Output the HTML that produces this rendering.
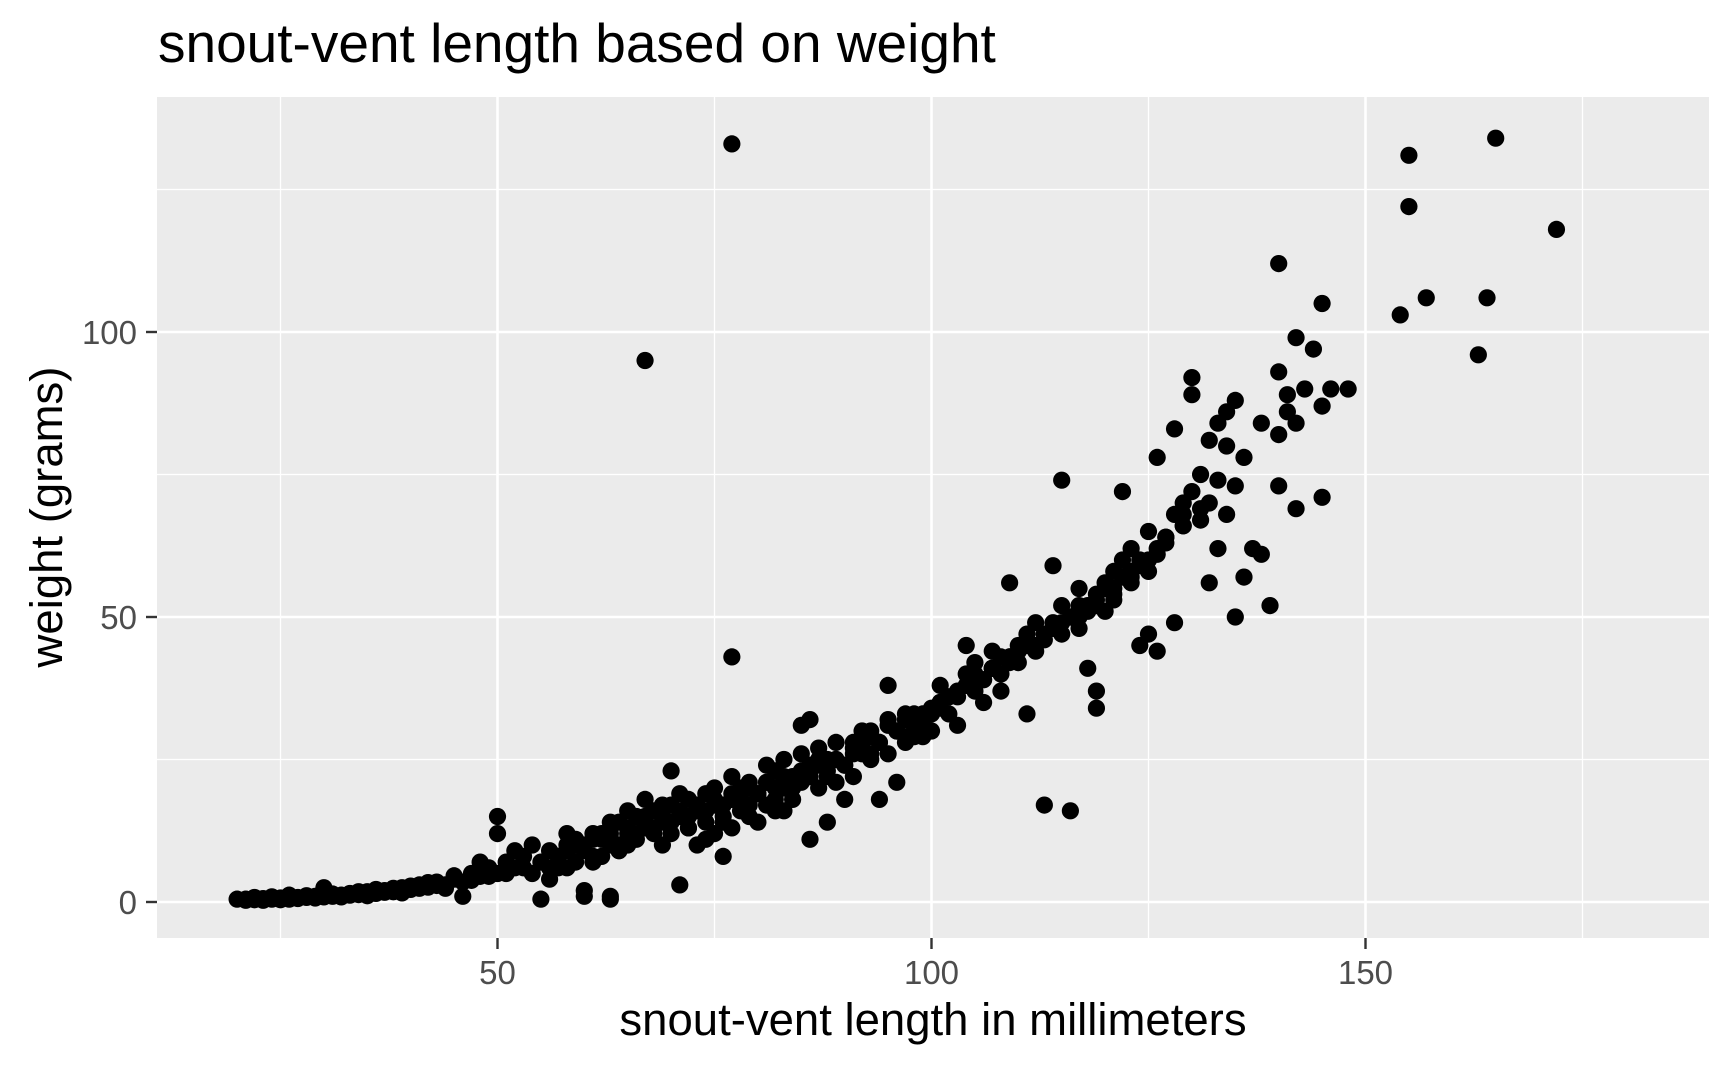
<!DOCTYPE html>
<html><head><meta charset="utf-8"><style>
html,body{margin:0;padding:0;background:#fff;}
svg{display:block;font-family:"Liberation Sans",Arial,sans-serif;}
</style></head><body>
<svg id="chart" width="1731" height="1068" viewBox="0 0 1731 1068" xmlns="http://www.w3.org/2000/svg">
<text x="158" y="62" font-size="55" fill="#000">snout-vent length based on weight</text>
<rect x="157" y="97" width="1552" height="841" fill="#ebebeb"/>
<g id="grid"></g>
<g id="points"></g>
<g id="axes"></g>
<text x="933" y="1035" font-size="45.5" text-anchor="middle" fill="#000">snout-vent length in millimeters</text>
<text transform="translate(62,517) rotate(-90)" font-size="45.5" text-anchor="middle" fill="#000">weight (grams)</text>
</svg>
<script>
const xMajor=[50,100,150];
const xMinor=[25,75,125,175];
const yMajor=[0,50,100];
const yMinor=[25,75,125];
const xTickLabels=["50","100","150"];
const yTickLabels=["0","50","100"];
const svlValues=[20,21,22,23,24,25,26,27,28,29,30,30,31,32,33,34,35,36,37,38,39,40,41,42,43,44,45,46,46,47,48,48,49,50,50,50,51,52,53,54,54,55,55,56,56,57,58,58,59,60,60,61,62,62,63,63,64,64,65,66,66,67,67,68,68,69,70,70,70,71,71,72,72,73,73,74,74,75,75,76,76,77,77,77,78,78,79,80,80,81,81,82,82,83,83,84,84,85,85,86,86,86,87,87,88,88,89,89,90,90,91,91,92,92,93,93,94,94,95,95,95,96,96,97,97,98,99,99,100,100,101,101,102,103,103,104,104,105,105,106,106,107,107,108,108,109,109,110,110,111,111,112,112,113,113,114,114,115,115,115,116,116,117,117,118,118,119,119,119,120,120,121,121,122,122,123,123,124,124,125,125,125,126,126,126,127,128,128,128,129,129,130,130,130,131,131,132,132,133,133,134,134,134,135,135,135,136,137,138,138,139,140,140,140,140,141,141,142,142,142,143,144,145,145,145,146,148,154,155,155,157,163,164,165,172,67,77,60,63,
21,22,23,24,25,26,27,28,29,31,32,33,34,35,36,37,38,39,40,41,42,43,44,45,47,49,51,52,53,57,59,61,64,65,69,72,74,76,79,82,84,88,92,98,102,
56,57,58,59,60,61,62,63,64,65,66,67,68,69,70,71,72,73,74,75,76,77,78,79,80,81,82,83,84,85,86,87,88,89,90,91,92,93,94,96,97,98,100,101,102,104,105,106,107,108,109,110,111,112,113,114,116,117,118,119,120,121,122,123,124,126,127,129,131,132,133,136,
58,61,63,65,67,69,71,73,75,77,79,81,83,85,87,89,91,93,95,97,99,101,103,105,107,109,111,113,115,117,119,121,123,125,127,129];
const weightValues=[0.5,0.5,0.4,0.6,0.5,0.7,1.2,0.6,0.8,1,2.5,0.9,1,1.2,1.5,1.3,1.8,1.5,2,1.8,2.5,2.2,3,2.6,3.5,3,4,3.5,1,5,4.5,7,6,5,12,15,7,6,8,5,10,7,0.5,9,4,8,12,6,10,9,2,11,8,12,10,1,14,9,12,11,15,13,18,12,16,14,12,17,23,15,3,13,18,16,10,14,19,17,12,15,8,18,13,43,16,20,17,19,14,21,17,18,23,20,16,22,18,21,31,24,11,32,20,27,22,14,25,21,24,18,27,22,26,30,25,29,28,18,31,38,26,30,21,32,28,33,31,29,34,30,35,38,33,36,31,40,45,37,42,39,35,41,44,40,37,43,56,45,42,47,33,44,49,46,17,48,59,47,74,52,50,16,48,55,52,41,54,37,34,56,51,58,53,60,72,57,62,60,45,65,58,47,62,78,44,64,68,49,83,70,66,72,92,89,75,67,81,56,84,62,80,86,68,73,50,88,57,62,84,61,52,82,112,93,73,89,86,69,99,84,90,97,105,87,71,90,90,103,131,122,106,96,106,134,118,95,133,1,0.5,
0.3,0.8,0.3,0.9,0.4,0.5,0.8,1.1,0.7,1.4,0.9,1.2,1.8,1.1,2.2,1.7,2.4,1.6,2.8,2.4,3.4,2.9,2.4,4.6,3.8,4.5,5,9,6,6,11,7,9,10,10,13,11,14,15,16,20,25,27,29,36,
6,8,9,7,10,8,11,12,10,13,12,14,13,15,14,16,15,17,16,18,17,19,18,20,19,21,20,22,21,23,22,24,23,25,24,26,27,26,28,30,29,31,33,34,36,38,40,39,41,43,42,44,46,45,47,49,50,52,51,53,55,54,57,56,59,61,63,66,69,70,74,78,
10,12,14,16,15,17,19,16,20,22,21,24,25,26,25,28,28,30,32,33,33,35,37,39,41,43,45,47,49,50,52,55,58,60,64,68];
function sx(v){return 497.5+(v-50)*8.68;}
function sy(v){return 902-v*5.7;}
const NS="http://www.w3.org/2000/svg";
const grid=document.getElementById('grid'),axes=document.getElementById('axes'),pts=document.getElementById('points');
function line(g,x1,y1,x2,y2,stroke,w,name){const l=document.createElementNS(NS,'line');l.setAttribute('x1',x1);l.setAttribute('y1',y1);l.setAttribute('x2',x2);l.setAttribute('y2',y2);l.setAttribute('stroke',stroke);l.setAttribute('stroke-width',w);


g.appendChild(l);}
yMinor.forEach(v=>line(grid,157,sy(v),1709,sy(v),'#fff',1.3,'y-minor-gridline'));
xMinor.forEach(v=>line(grid,sx(v),97,sx(v),938,'#fff',1.3,'x-minor-gridline'));
yMajor.forEach(v=>line(grid,157,sy(v),1709,sy(v),'#fff',2.6,'y-major-gridline'));
xMajor.forEach(v=>line(grid,sx(v),97,sx(v),938,'#fff',2.6,'x-major-gridline'));
for(let i=0;i<svlValues.length;i++){const c=document.createElementNS(NS,'circle');c.setAttribute('cx',sx(svlValues[i]));c.setAttribute('cy',sy(weightValues[i]));c.setAttribute('r',8.6);c.setAttribute('fill','#000');


pts.appendChild(c);}
function txt(x,y,s,anchor,name){const t=document.createElementNS(NS,'text');t.setAttribute('x',x);t.setAttribute('y',y);t.setAttribute('font-size',33);t.setAttribute('fill','#4d4d4d');t.setAttribute('text-anchor',anchor);t.textContent=s;


axes.appendChild(t);}
xMajor.forEach((v,i)=>{line(axes,sx(v),938,sx(v),949,'#333',2.4,'x-tick');txt(sx(v),984,xTickLabels[i],'middle','x-tick-label');});
yMajor.forEach((v,i)=>{line(axes,146,sy(v),157,sy(v),'#333',2.4,'y-tick');txt(137,sy(v)+12,yTickLabels[i],'end','y-tick-label');});
</script>
</body></html>
